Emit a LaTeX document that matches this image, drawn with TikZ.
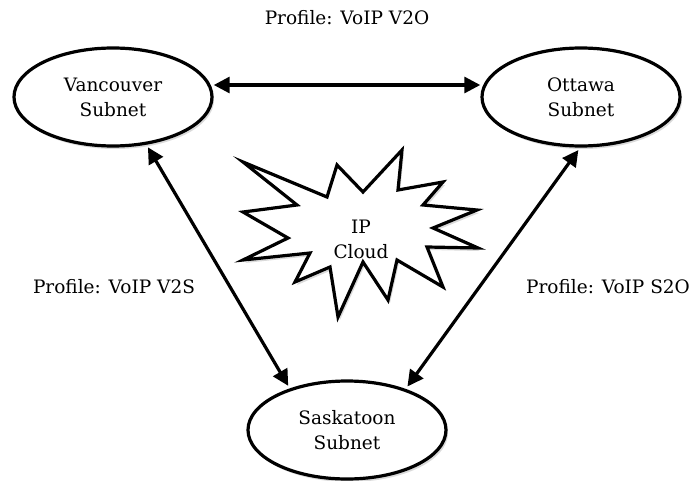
\documentclass[tikz,border=0pt]{standalone}
\usepackage{fontspec}
\setmainfont{DejaVu Serif}
\usepackage{tikz}
\usetikzlibrary{shapes,arrows.meta,positioning,calc,shadows}
\definecolor{shadowgray}{RGB}{150,150,150}

\begin{document}
\begin{tikzpicture}[x=1pt,y=-1pt,
    subnet/.style={draw,line width=3.2pt,ellipse,minimum width=198pt,minimum height=98pt,
        align=center,font=\fontsize{18.5}{25}\selectfont,fill=white,
        drop shadow={shadow xshift=2pt,shadow yshift=-3pt,fill=shadowgray,opacity=0.35}},
    link/.style={line width=3.2pt,{Triangle[length=16pt,width=16pt]}-{Triangle[length=16pt,width=16pt]},
        shorten <=3pt,shorten >=3pt},
    tag/.style={font=\fontsize{18.5}{22}\selectfont}]
    \useasboundingbox (0,0) rectangle (695,481);

    % IP cloud
    \draw[line width=3.2pt,fill=white,line join=miter,
        drop shadow={shadow xshift=2pt,shadow yshift=-3pt,fill=shadowgray,opacity=0.35}]
        (243,162) -- (327,197) -- (337,165) -- (363,192) -- (402,150) -- (398,190)
        -- (443,182) -- (423,205) -- (477,210) -- (433,228) -- (478,248) -- (427,247)
        -- (443,287) -- (397,260) -- (388,300) -- (363,262) -- (338,317) -- (330,267)
        -- (295,282) -- (310,253) -- (243,260) -- (288,238) -- (243,212) -- (297,205) -- cycle;
    \node[align=center,font=\fontsize{18.5}{25}\selectfont] (cloud) at (361,239) {IP\\Cloud};

    % subnets
    \node[subnet] (van) at (113,97) {Vancouver\\Subnet};
    \node[subnet] (ott) at (581,97) {Ottawa\\Subnet};
    \node[subnet] (sas) at (347,430) {Saskatoon\\Subnet};

    % links
    \draw[link] (van.7) -- (ott.173);
    \draw[link] (van.-55) -- (sas.144);
    \draw[link] (sas.35) -- (ott.-91);

    % profiles
    \node[tag] (v2o) at (347,18) {Profile: VoIP V2O};
    \node[tag] (v2s) at (114,287) {Profile: VoIP V2S};
    \node[tag] (s2o) at (608,287) {Profile: VoIP S2O};
\end{tikzpicture}
\end{document}
